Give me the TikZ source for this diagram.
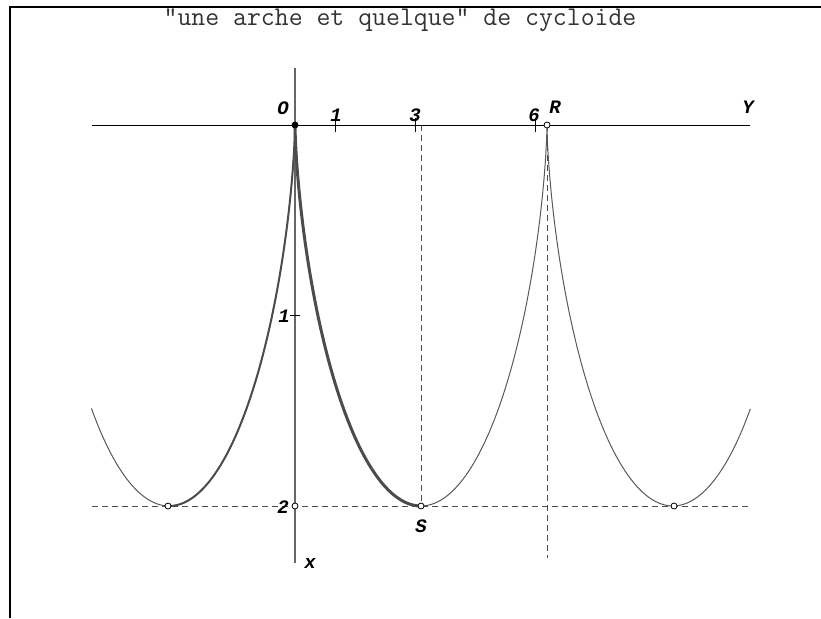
\documentclass[tikz,border=0pt]{standalone}
\usepackage{fontspec}
\newfontfamily\lblfont{Liberation Mono}
\begin{document}
\begin{tikzpicture}[x=1pt,y=-1pt,
  lbl/.style={font=\lblfont\bfseries\itshape\fontsize{19}{19}\selectfont, inner sep=0pt},
  pt/.style={circle, draw=black, fill=white, line width=0.8pt, minimum size=6pt, inner sep=0pt},
  dsh/.style={draw=black!70, dash pattern=on 6pt off 4pt, line width=0.9pt},
  curve/.style={draw=black!65, line width=1pt},
  tick/.style={draw=black, line width=0.8pt}]
\useasboundingbox (0,0) rectangle (821,618);
% frame
\draw[line width=2.5pt] (10,618) -- (10,7) -- (821,7);
% title
\node[font=\ttfamily\fontsize{27}{27}\selectfont, text=black!80, inner sep=0pt] (title) at (400,20) {"une arche et quelque" de cycloide};
% key points
\coordinate (Oc) at (295,125);
\coordinate (Rc) at (547,125);
\coordinate (Sc) at (421,506);
\coordinate (Lm) at (168,506);
\coordinate (Rm) at (674,506);
\coordinate (Xt) at (295,506);
\coordinate (ax1) at (92,125);
\coordinate (ax2) at (750,125);
\coordinate (ay1) at (295,68);
\coordinate (ay2) at (295,563);
\coordinate (dh1) at (92,506);
\coordinate (dh2) at (750,506);
\coordinate (S3) at (421,125);
\coordinate (Rb) at (547,558);
% dashed lines
\draw[dsh] (dh1) -- (dh2);
\draw[dsh] (S3) -- (Sc);
\draw[dsh] (Rc) -- (Rb);
% axes
\draw[black, line width=1pt] (ax1) -- (ax2);
\draw[black!60, line width=1.5pt] (ay1) -- (ay2);
% ticks
\coordinate (t1) at (335,125);
\coordinate (t3) at (415,125);
\coordinate (t6) at (535,125);
\coordinate (tv) at (295,315);
\draw[tick] ([yshift=-7pt]t1) -- ([yshift=7pt]t1);
\draw[tick] ([yshift=-7pt]t3) -- ([yshift=7pt]t3);
\draw[tick] ([yshift=-7pt]t6) -- ([yshift=7pt]t6);
\draw[tick] ([xshift=-5pt]tv) -- ([xshift=5pt]tv);
% cycloid
\draw[curve] plot[domain=-4.203:10.486, samples=300, smooth, variable=\t]
  ({295+40.1*(\t - sin(\t r))},{125+190.5*(1-cos(\t r))});
\draw[draw=black!70, line width=2pt] plot[domain=-3.1416:0, samples=120, smooth, variable=\t]
  ({295+40.1*(\t - sin(\t r))},{125+190.5*(1-cos(\t r))});
\draw[draw=black!70, line width=3pt] plot[domain=0:3.1416, samples=120, smooth, variable=\t]
  ({295+40.1*(\t - sin(\t r))},{125+190.5*(1-cos(\t r))});
% points
\node[pt, fill=black] (O) at (Oc) {};
\node[pt] (R) at (Rc) {};
\node[pt] (S) at (Sc) {};
\node[pt] (L) at (Lm) {};
\node[pt] (M) at (Rm) {};
\node[pt] (X2) at (Xt) {};
% labels
\node[lbl] (lO) at (283,108) {O};
\node[lbl] (l1) at (336,115) {1};
\node[lbl] (l3) at (415,115) {3};
\node[lbl] (l6) at (534,115) {6};
\node[lbl] (lR) at (555,107) {R};
\node[lbl] (lY) at (748,107) {Y};
\node[lbl] (lv1) at (284,316) {1};
\node[lbl] (l2) at (283,507) {2};
\node[lbl] (lS) at (421,526) {S};
\node[lbl] (lx) at (310,563) {x};
\end{tikzpicture}
\end{document}
